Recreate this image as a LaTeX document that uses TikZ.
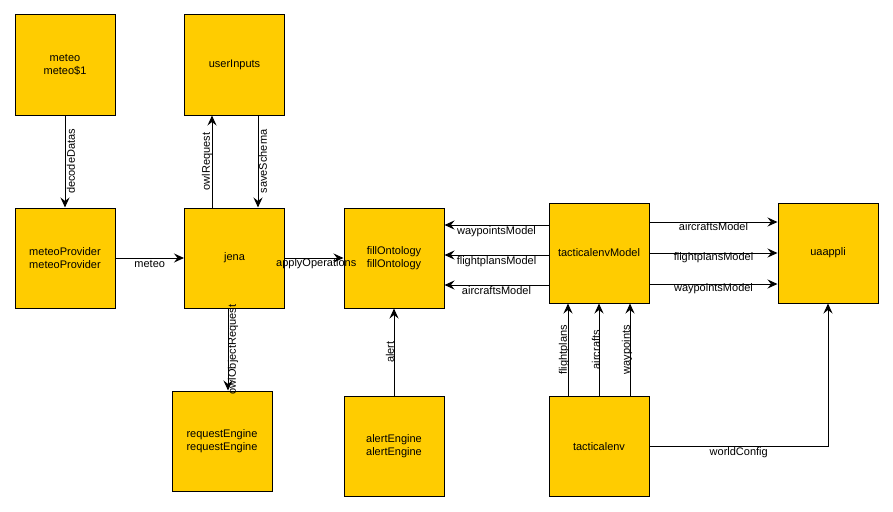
\documentclass[tikz,border=0pt]{standalone}
\usepackage{fontspec}
\setmainfont{Liberation Sans}
\usetikzlibrary{arrows.meta}
\definecolor{boxyellow}{HTML}{FFCC00}

\begin{document}
\begin{tikzpicture}[x=1pt,y=-1pt,
	box/.style={draw=black, line width=1pt, fill=boxyellow, minimum width=100pt, minimum height=100pt, inner sep=0pt, align=center, font=\fontsize{11}{13}\selectfont},
	lbl/.style={inner sep=0pt, font=\fontsize{11}{13}\selectfont},
	arr/.style={-{Stealth[length=10pt,width=9pt,inset=3.5pt]}, line width=1pt}]
	    \useasboundingbox (0,0) rectangle (893,511);
	    % components
	    \node[box] (meteo) at (65,65) {meteo\\meteo\$1};
	    \node[box] (userinputs) at (234.5,65) {userInputs};
	    \node[box] (meteoprov) at (65,258) {meteoProvider\\meteoProvider};
	    \node[box] (jena) at (234.5,258) {jena};
	    \node[box] (fillonto) at (394,258) {fillOntology\\fillOntology};
	    \node[box] (reqengine) at (222,441) {requestEngine\\requestEngine};
	    \node[box] (alertengine) at (394,446) {alertEngine\\alertEngine};
	    \node[box] (tacmodel) at (599,253) {tacticalenvModel};
	    \node[box] (uaappli) at (828,253) {uaappli};
	    \node[box] (tacenv) at (599,446.5) {tacticalenv};
	    % left part
	    \draw[arr] (meteo) -- node[lbl, xshift=6pt, rotate=90] {decodeDatas} (meteoprov);
	    \draw[arr] (meteoprov) -- node[lbl, yshift=-6pt] {meteo} (jena);
	    \draw[arr] ([xshift=-22.5pt]jena.north) -- node[lbl, xshift=-5pt, rotate=90] {owlRequest} ([xshift=-22.5pt]userinputs.south);
	    \draw[arr] ([xshift=23.5pt]userinputs.south) -- node[lbl, xshift=5pt, rotate=90] {saveSchema} ([xshift=23.5pt]jena.north);
	    \draw[arr] (jena) -- node[lbl, xshift=2pt, yshift=-6pt] {applyOperations} (fillonto);
	    \draw[arr] ([xshift=-6.5pt]jena.south) -- node[lbl, xshift=5pt, rotate=90] {owlObjectRequest} ([xshift=-6.5pt]jena.south |- reqengine.north);
	    \draw[arr] (alertengine) -- node[lbl, xshift=-4pt, rotate=90] {alert} (fillonto);
	    % tactical models
	    \draw[arr] ([yshift=28pt]tacmodel.west) -- node[lbl, yshift=-7pt] {waypointsModel} ([yshift=28pt]tacmodel.west -| fillonto.east);
	    \draw[arr] ([yshift=-2pt]tacmodel.west) -- node[lbl, yshift=-7pt] {flightplansModel} ([yshift=-2pt]tacmodel.west -| fillonto.east);
	    \draw[arr] ([yshift=-32pt]tacmodel.west) -- node[lbl, yshift=-6pt] {aircraftsModel} ([yshift=-32pt]tacmodel.west -| fillonto.east);
	    \draw[arr] ([yshift=31pt]tacmodel.east) -- node[lbl, yshift=-5pt] {aircraftsModel} ([yshift=31pt]uaappli.west);
	    \draw[arr] (tacmodel) -- node[lbl, yshift=-5pt] {flightplansModel} (uaappli);
	    \draw[arr] ([yshift=-31pt]tacmodel.east) -- node[lbl, yshift=-5pt] {waypointsModel} ([yshift=-31pt]uaappli.west);
	    \draw[arr] ([xshift=-31pt]tacenv.north) -- node[lbl, xshift=-4pt, rotate=90] {flightplans} ([xshift=-31pt]tacmodel.south);
	    \draw[arr] (tacenv) -- node[lbl, xshift=-3pt, rotate=90] {aircrafts} (tacmodel);
	    \draw[arr] ([xshift=31pt]tacenv.north) -- node[lbl, xshift=-3pt, rotate=90] {waypoints} ([xshift=31pt]tacmodel.south);
	    \draw[arr] (tacenv.east) -| node[lbl, pos=0.25, yshift=-6pt] {worldConfig} (uaappli.south);
\end{tikzpicture}
\end{document}
